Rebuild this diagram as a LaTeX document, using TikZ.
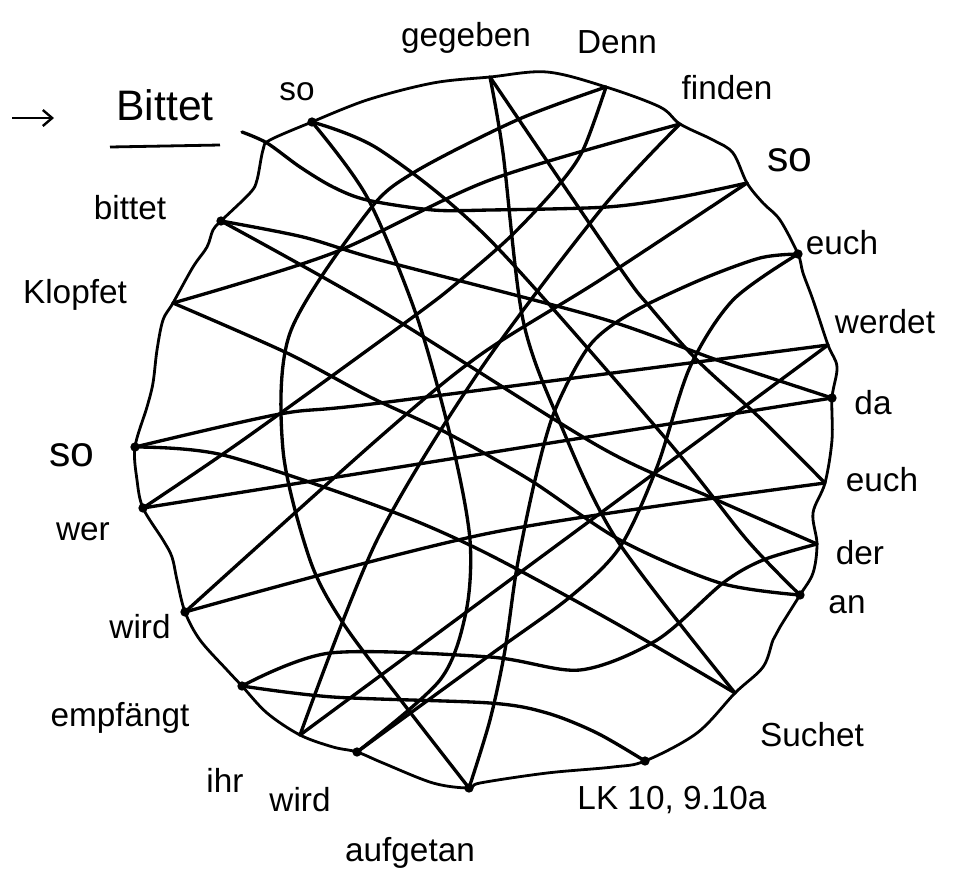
\documentclass[tikz,border=0pt]{standalone}
\usepackage{fontspec}
\setmainfont{Liberation Sans}
\usetikzlibrary{arrows.meta}
\begin{document}
\begin{tikzpicture}[x=0.75pt,y=-0.75pt,
  ln/.style={line width=2.5pt,line join=round,line cap=round},
  rim/.style={line width=2.1pt,line join=round},
  word/.style={font=\fontsize{25}{28}\selectfont,inner sep=0pt},
  bigword/.style={font=\fontsize{32}{34}\selectfont,inner sep=0pt},
  dotm/.style={circle,fill=black,inner sep=0pt,minimum size=7pt}]
\useasboundingbox (0,0) rectangle (971,886);
% points on the rim
\coordinate (bstart) at (242,132);
\coordinate (so1) at (312,122);
\coordinate (geg) at (490,77);
\coordinate (denn) at (606,87);
\coordinate (finden) at (680,124);
\coordinate (so2) at (747,183);
\coordinate (euch1) at (798,254);
\coordinate (werdet) at (828,345);
\coordinate (da) at (832,398);
\coordinate (euch2) at (825,483);
\coordinate (der) at (817,544);
\coordinate (an) at (800,595);
\coordinate (suchet) at (735,693);
\coordinate (lk) at (645,761);
\coordinate (aufg) at (469,788);
\coordinate (wird2) at (357,752);
\coordinate (ihr) at (300,735);
\coordinate (empf) at (242,686);
\coordinate (wird1) at (185,612);
\coordinate (wer) at (143,508);
\coordinate (so3) at (135,447);
\coordinate (klopf) at (173,303);
\coordinate (bittet) at (221,221);
% rim
\draw[rim] plot[smooth,tension=0.55] coordinates {(so1) (367,100) (433,83) (geg) (547,72) (denn) (660,107) (finden) (713,140) (733,153) (so2) (763,203) (780,220) (euch1) (803,273) (813,300) (werdet) (837,367) (da) (832,440) (euch2) (813,513) (der) (813,573) (an) (780,627) (773,640) (763,667) (suchet) (697,733) (lk) (613,767) (547,773) (480,783) (aufg) (433,783) (383,763) (wird2) (333,747) (ihr) (267,713) (empf) (227,670) (200,640) (wird1) (177,580) (172,557) (163,540) (wer) (137,480) (so3) (147,407) (153,383) (157,350) (163,320) (klopf) (193,267) (207,247) (213,230) (bittet) (250,193) (257,180) (263,150) (270,140) (so1)};
% the path of the verse
\draw[ln] plot[smooth] coordinates {(bstart) (267,143) (300,167) (333,187) (367,200) (433,210) (490,210) (607,207) (680,197) (so2)};
\draw[ln] plot[smooth] coordinates {(so2) (600,280) (480,355) (380,437) (wird1)};
\draw[ln] plot[smooth] coordinates {(wird1) (490,533) (euch2)};
\draw[ln] plot[smooth] coordinates {(euch2) (760,418) (697,360) (650,307) (620,268) (geg)};
\draw[ln] plot[smooth] coordinates {(geg) (503,153) (523,320) (560,423) (617,540) (suchet)};
\draw[ln] plot[smooth] coordinates {(suchet) (610,620) (480,550) (380,507) (223,455) (so3)};
\draw[ln] plot[smooth] coordinates {(so3) (280,414) (380,403) (werdet)};
\draw[ln] (werdet) -- (ihr);
\draw[ln] plot[smooth] coordinates {(ihr) (377,540) (480,370) (603,207) (finden)};
\draw[ln] plot[smooth] coordinates {(finden) (490,180) (333,253) (klopf)};
\draw[ln] plot[smooth] coordinates {(klopf) (287,353) (370,397) (447,433) (530,480) (620,540) (720,583) (an)};
\draw[ln] plot[smooth] coordinates {(an) (747,540) (667,440) (490,240) (380,150) (so1)};
\draw[ln] plot[smooth] coordinates {(so1) (367,197) (417,317) (453,447) (470,540) (466,612) (440,680) (wird2)};
\draw[ln] plot[smooth] coordinates {(wird2) (490,655) (570,597) (620,547) (657,467) (690,367) (733,300) (euch1)};
\draw[ln] plot[smooth] coordinates {(euch1) (760,258) (700,280) (633,312) (590,345) (555,410) (535,480) (517,567) (505,650) (490,720) (aufg)};
\draw[ln] plot[smooth] coordinates {(aufg) (403,703) (343,623) (310,560) (283,450) (290,333) (367,213) (413,173) (517,120) (denn)};
\draw[ln] plot[smooth] coordinates {(denn) (583,150) (557,187) (510,237) (457,283) (413,317) (243,440) (wer)};
\draw[ln] (wer) -- (da);
\draw[ln] plot[smooth] coordinates {(da) (717,360) (600,318) (380,260) (303,237) (bittet)};
\draw[ln] plot[smooth] coordinates {(bittet) (380,310) (600,447) (710,497) (der)};
\draw[ln] plot[smooth] coordinates {(der) (763,560) (723,583) (657,640) (580,670) (490,657) (330,653) (empf)};
\draw[ln] plot[smooth] coordinates {(empf) (333,697) (490,703) (547,713) (597,733) (lk)};
% dots
\foreach \p in {so1,bittet,wer,empf,wird2,aufg,lk,an,da,euch1,wird1,so3} \node[dotm] at (\p) {};
% words
\node[bigword] (tBittet) at (165,105) {Bittet};
\draw[rim] (110,147) -- (220,145);
\draw[rim,-{Straight Barb[length=7pt,width=12pt,line width=1.8pt]}] (12,118) -- (54,118);
\node[word] (tso1) at (297,92) {so};
\node[word] (tgeg) at (466,38) {gegeben};
\node[word] (tdenn) at (617,42) {Denn};
\node[word] (tfinden) at (727,88) {finden};
\node[bigword] (tso2) at (790,160) {so};
\node[word] (teuch1) at (842,243) {euch};
\node[word] (twerdet) at (885,322) {werdet};
\node[word] (tda) at (873,403) {da};
\node[word] (teuch2) at (882,480) {euch};
\node[word] (tder) at (860,553) {der};
\node[word] (tan) at (847,605) {an};
\node[word] (tsuchet) at (812,735) {Suchet};
\node[word] (tlk) at (672,800) {LK 10, 9.10a};
\node[word] (taufg) at (410,853) {aufgetan};
\node[word] (twird2) at (300,800) {wird};
\node[word] (tihr) at (225,780) {ihr};
\node[word] (tempf) at (120,718) {empfängt};
\node[word] (twird1) at (140,627) {wird};
\node[word] (twer) at (83,532) {wer};
\node[bigword] (tso3) at (72,455) {so};
\node[word] (tklopf) at (75,295) {Klopfet};
\node[word] (tbittet) at (130,208) {bittet};
\end{tikzpicture}
\end{document}
